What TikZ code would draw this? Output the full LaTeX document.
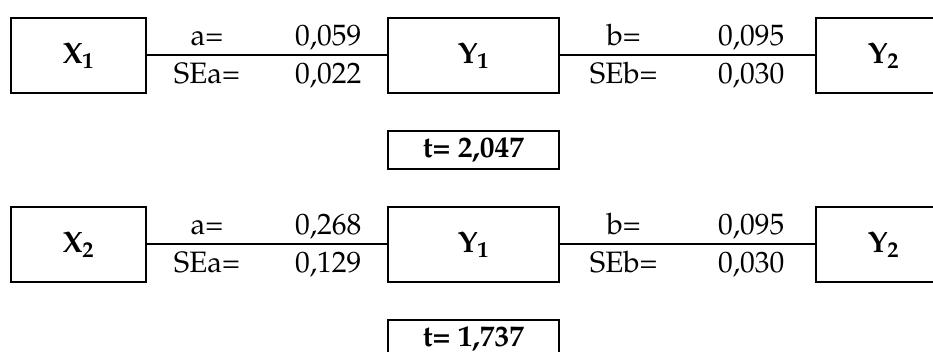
\documentclass[tikz,border=0pt]{standalone}
\usepackage[T1]{fontenc}
\usepackage{mathpazo}
\usetikzlibrary{positioning}

\tikzset{
    var/.style={draw, line width=2pt, minimum width=135pt, minimum height=75pt, inner sep=0pt, font=\fontsize{29.5}{34}\selectfont\bfseries},
    mid/.style={var, minimum width=171pt},
    tbox/.style={var, minimum width=171pt, minimum height=38pt},
    link/.style={line width=2pt},
    lab/.style={font=\fontsize{29.5}{34}\selectfont, inner sep=0pt, anchor=base},
    up/.style={lab, yshift=10pt},
    down/.style={lab, yshift=-28pt},
}

\begin{document}
\begin{tikzpicture}[x=1pt, y=1pt]
    \useasboundingbox (0,0) rectangle (933,-352);

    \foreach \r/\dy/\a/\sa/\t in {1/0/{0,059}/{0,022}/{2,047}, 2/189/{0,268}/{0,129}/{1,737}}
    {
    \node[var] (X\r) at (78.5,-55.5-\dy) {X\textsubscript{\r}};
    \node[mid] (Ya\r) at (473.5,-55.5-\dy) {Y\textsubscript{1}};
    \node[var] (Yb\r) at (883.5,-55.5-\dy) {Y\textsubscript{2}};
    \node[tbox] (t\r) at (473.5,-150-\dy) {t= \t};

    \draw[link] (X\r) -- node[up, pos=.25] (a\r) {a=} node[up, pos=.755] (av\r) {\a}
        node[down, pos=.25] (sa\r) {SEa=} node[down, pos=.755] (sav\r) {\sa} (Ya\r);
    \draw[link] (Ya\r) -- node[up, pos=.25] (b\r) {b=} node[up, pos=.75] (bv\r) {0,095}
        node[down, pos=.25] (sb\r) {SEb=} node[down, pos=.75] (sbv\r) {0,030} (Yb\r);
    }

\end{tikzpicture}
\end{document}
